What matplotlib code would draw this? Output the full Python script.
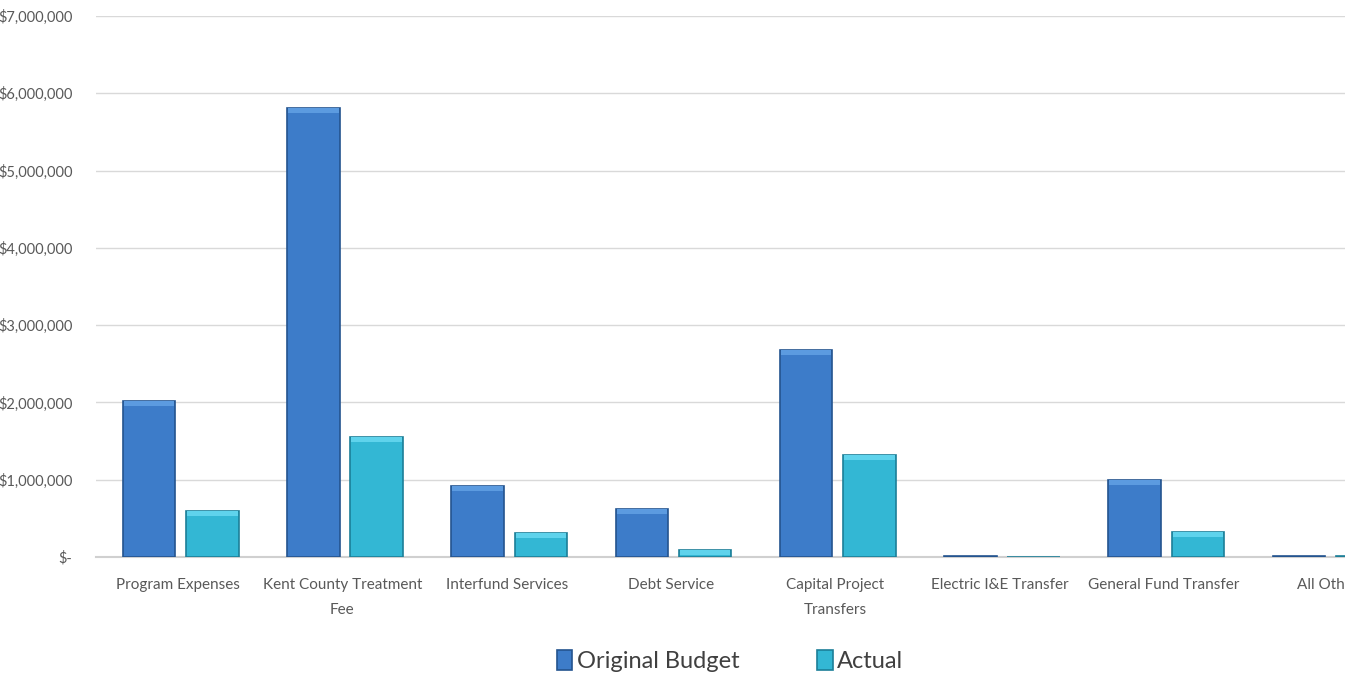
import numpy as np
import matplotlib
matplotlib.use("Agg")
import matplotlib.pyplot as plt
from matplotlib.ticker import FuncFormatter

# Categories and values
categories = ["Program Expenses", "Kent County Treatment\nFee", "Interfund Services",
              "Debt Service", "Capital Project\nTransfers", "Electric I&E Transfer",
              "General Fund Transfer", "All Other"]
original_budget = [2020000, 5810000, 920000, 620000, 2680000, 15000, 1000000, 15000]
actual = [595000, 1550000, 310000, 90000, 1320000, 0, 320000, 15000]
series_names = ["Original Budget", "Actual"]

plt.rcParams['font.family'] = ['Lato', 'DejaVu Sans']

fig = plt.figure(figsize=(13.45, 6.77), dpi=100)
# axes deliberately runs past the right edge, like the original screenshot
ax = fig.add_axes([96 / 1345, 1 - 557 / 677, 1314 / 1345, 541 / 677])

x = np.arange(len(categories))
w = 0.32
blue_c, blue_e = "#3D7CC9", "#24548F"
cyan_c, cyan_e = "#33B7D4", "#1C7F98"

b1 = ax.bar(x - 0.177, original_budget, w, color=blue_c, edgecolor=blue_e, linewidth=1.2,
            label=series_names[0], zorder=3)
b2 = ax.bar(x + 0.209, actual, w, color=cyan_c, edgecolor=cyan_e, linewidth=1.2,
            label=series_names[1], zorder=3)

# light bevel at the top of each bar
for bars, hl in ((b1, "#5C9BE0"), (b2, "#5FD3EC")):
    for r in bars:
        h = r.get_height()
        if h > 60000:
            ax.bar(r.get_x() + r.get_width() / 2, 60000, r.get_width() * 0.96,
                   bottom=h - 62000, color=hl, linewidth=0, zorder=4)

ax.set_xlim(-0.5, len(categories) - 0.5)
ax.set_ylim(0, 7000000)
ax.set_yticks(np.arange(0, 7000001, 1000000))
ax.yaxis.set_major_formatter(FuncFormatter(
    lambda v, p: "$-" if v == 0 else f"${v:,.0f}"))
ax.set_xticks(x)
ax.set_xticklabels(categories, fontsize=11, color="#595959", linespacing=2.0)
ax.tick_params(axis='y', labelsize=10.5, labelcolor="#595959", length=0, pad=17)
ax.tick_params(axis='x', length=0, pad=15)
ax.grid(axis='y', color="#D9D9D9", linewidth=1, zorder=0)
for s in ["top", "right", "left"]:
    ax.spines[s].set_visible(False)
ax.spines["bottom"].set_color("#D0D0D0")
ax.spines["bottom"].set_linewidth(1.5)

fig.legend(handles=[b1, b2], labels=series_names, loc="center",
           bbox_to_anchor=(730 / 1345, 1 - 661 / 677), ncol=2, frameon=False,
           fontsize=17, labelcolor="#404040", handlelength=0.65, handleheight=0.9,
           handletextpad=0.2, columnspacing=3.3)

fig.savefig("out.png", dpi=100)
